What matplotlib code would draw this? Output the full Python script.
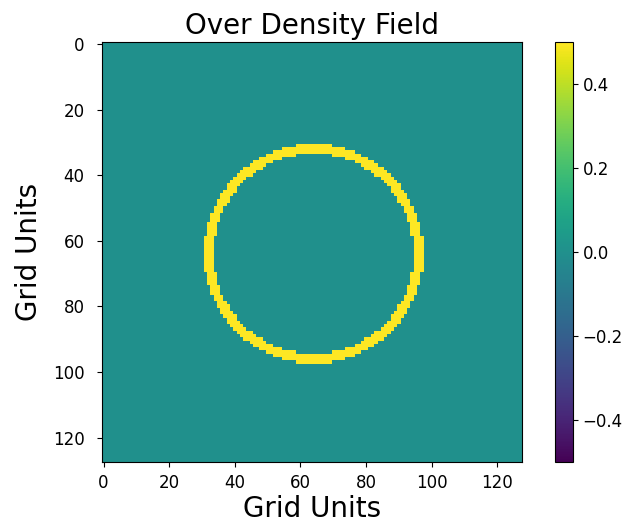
import numpy as np
import matplotlib.pyplot as plt

# grid and shell parameters for the over density field
n_grid = 128
center = [64, 64]
r_inner = 30.5
r_outer = 33.5
shell_value = 0.5
background_value = 0.0

y, x = np.mgrid[0:n_grid, 0:n_grid]
r = np.sqrt((x - center[0]) ** 2 + (y - center[1]) ** 2)
field = np.full((n_grid, n_grid), background_value)
field[(r >= r_inner) & (r < r_outer)] = shell_value

fig = plt.figure(figsize=(6.35, 5.3), dpi=100)
ax = fig.add_axes([0.1606, 0.128, 0.661, 0.792])
cax = fig.add_axes([0.874, 0.128, 0.028, 0.792])

im = ax.imshow(field, cmap='viridis', vmin=-0.5, vmax=0.5)
cbar = fig.colorbar(im, cax=cax)
cbar.ax.tick_params(labelsize=12)
ax.tick_params(axis='x', labelsize=12, pad=5)
ax.tick_params(axis='y', labelsize=12, pad=9)
ax.set_title("Over Density Field", fontsize=20)
ax.set_xlabel("Grid Units", fontsize=20, labelpad=2)
ax.set_ylabel("Grid Units", fontsize=20, labelpad=7)

plt.savefig("out.png")
